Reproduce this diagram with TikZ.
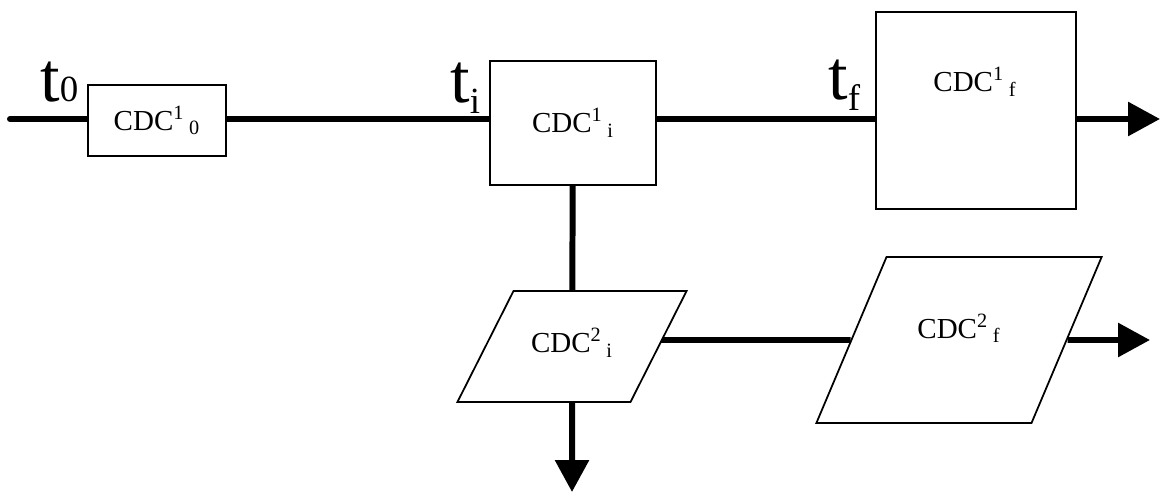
\documentclass[tikz,border=0pt]{standalone}
\usepackage{fontspec}
\setmainfont{Liberation Serif}
\usetikzlibrary{arrows.meta,shapes.geometric,backgrounds}
\newcommand{\cdc}[2]{CDC\textsuperscript{#1}\,\textsubscript{#2}}
\newcommand{\tlab}[2][-6pt]{{\fontsize{40}{40}\selectfont t\raisebox{#1}{\fontsize{21}{21}\selectfont #2}}}
\begin{document}
\begin{tikzpicture}[x=0.2mm,y=-0.2mm,
    box/.style={draw,line width=1pt,fill=white,inner sep=0pt},
    para/.style={trapezium,draw,line width=1pt,fill=white,inner xsep=0pt,text height=4mm,text depth=1.5mm,align=center},
    flow/.style={line width=3.4pt},
    tip/.style={-{Triangle[width=6.6mm,length=6.4mm]}},
    font=\fontsize{16.5}{18}\selectfont]
  \useasboundingbox (0,0) rectangle (1161,493);
  \coordinate (start) at (10,119);
  \coordinate (endone) at (1160,119);
  \coordinate (endtwo) at (1150,340);
  \coordinate (downend) at (572,492);
  \node[box,minimum width=27.6mm,minimum height=14.2mm] (b0) at (157,120.5) {\cdc{1}{0}};
  \node[box,minimum width=33.2mm,minimum height=24.8mm] (bi) at (573,123) {\cdc{1}{i}};
  \node[box,minimum width=40mm,minimum height=39.4mm] (bf) at (976,110.5) {};
  \node (lf) at (975,82) {\cdc{1}{f}};
  \node[para,trapezium left angle=63.2,trapezium right angle=116.8,text width=23.4mm,inner ysep=8.35mm] (pi) at (572,346.5) {\cdc{2}{i}};
  \node[para,trapezium left angle=67.1,trapezium right angle=112.9,text width=29mm,text height=2.4mm,text depth=3.1mm,inner ysep=13.85mm] (pf) at (959,340) {\cdc{2}{f}};
  \node[anchor=base west,inner sep=0pt] (t0) at (40,102) {\tlab[0pt]{0}};
  \node[anchor=base west,inner sep=0pt] (ti) at (450,103) {\tlab{i}};
  \node[anchor=base west,inner sep=0pt] (tf) at (828,100) {\tlab{f}};
  \begin{scope}[on background layer]
    \draw[flow,line cap=round] (start) -- (b0.center |- start);
    \draw[flow] (b0.center |- start) -- (bi.center |- start);
    \draw[flow] (bi.center |- start) -- (bf.center |- start);
    \draw[flow,tip] (bf.center |- start) -- (endone);
    \draw[flow] (bi) -- (pi);
    \draw[flow,tip] (pi) -- (downend);
    \draw[flow] (pi.center |- pf.center) -- (pf);
    \draw[flow,tip] (pf) -- (endtwo);
  \end{scope}
\end{tikzpicture}
\end{document}
